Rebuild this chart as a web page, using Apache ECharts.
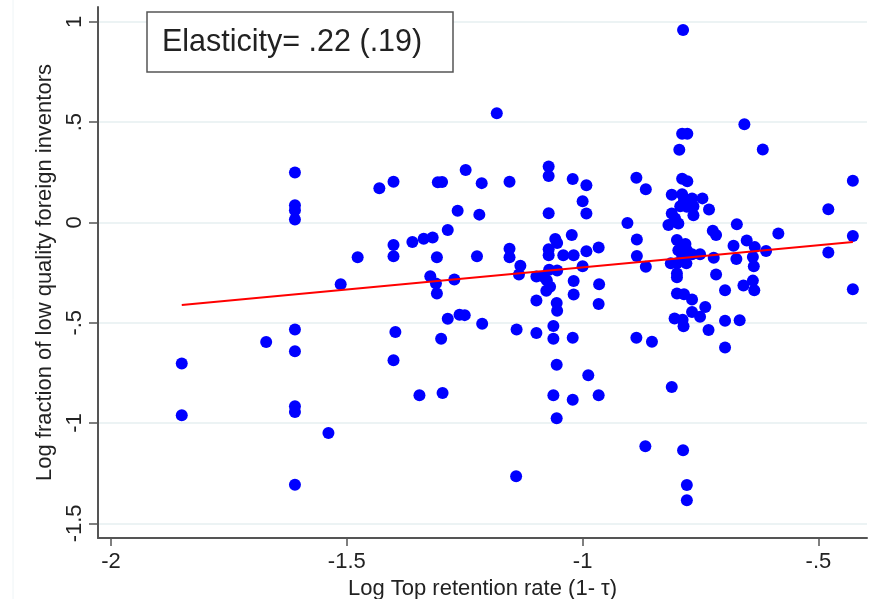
<!DOCTYPE html>
<html>
<head>
<meta charset="utf-8">
<script src="https://cdn.jsdelivr.net/npm/echarts@6/dist/echarts.min.js"></script>
<style>
  html, body { margin: 0; padding: 0; background: #fff; }
  #echart_scatter { width: 886px; height: 599px; }
</style>
</head>
<body>
<div id="echart_scatter"></div>
<script>
// log top retention rate (1 - tau)
var retention = [
  -1.850, -1.850, -1.671, -1.610, -1.610, -1.610, -1.610, -1.610, -1.610, -1.610,
  -1.610, -1.610, -1.539, -1.513, -1.477, -1.431, -1.401, -1.401, -1.401, -1.397,
  -1.401, -1.361, -1.337, -1.318, -1.346, -1.307, -1.298, -1.309, -1.323, -1.311,
  -1.309, -1.300, -1.297, -1.286, -1.265, -1.272, -1.286, -1.261, -1.250, -1.248,
  -1.214, -1.219, -1.224, -1.213, -1.182, -1.155, -1.155, -1.155, -1.132, -1.135,
  -1.140, -1.141, -1.098, -1.083, -1.098, -1.098, -1.072, -1.072, -1.072, -1.072,
  -1.072, -1.071, -1.054, -1.058, -1.054, -1.076, -1.069, -1.077, -1.055, -1.054,
  -1.062, -1.062, -1.055, -1.062, -1.055, -1.041, -1.019, -1.021, -0.992, -1.000,
  -0.992, -1.023, -1.000, -1.019, -1.019, -1.021, -1.021, -0.992, -0.966, -0.965,
  -0.966, -0.988, -0.966, -0.905, -0.886, -0.866, -0.885, -0.885, -0.866, -0.886,
  -0.853, -0.811, -0.867, -0.787, -0.789, -0.778, -0.795, -0.789, -0.778, -0.811,
  -0.789, -0.785, -0.768, -0.746, -0.793, -0.779, -0.765, -0.732, -0.811, -0.804,
  -0.765, -0.818, -0.797, -0.800, -0.782, -0.797, -0.779, -0.789, -0.768, -0.751,
  -0.813, -0.800, -0.780, -0.800, -0.800, -0.800, -0.785, -0.768, -0.740, -0.768,
  -0.751, -0.805, -0.788, -0.786, -0.733, -0.698, -0.667, -0.698, -0.787, -0.779,
  -0.779, -0.724, -0.717, -0.722, -0.717, -0.673, -0.680, -0.674, -0.698, -0.657,
  -0.618, -0.652, -0.635, -0.611, -0.639, -0.637, -0.659, -0.639, -0.636, -0.585,
  -0.479, -0.479, -0.427, -0.427, -0.427
];
// log fraction of low quality foreign inventors
var lowQuality = [
  -0.703, -0.961, -0.596, 0.249, 0.086, 0.061, 0.015, -0.534, -0.642, -0.916,
  -0.945, -1.307, -1.049, -0.308, -0.173, 0.170, 0.203, -0.113, -0.168, -0.546,
  -0.687, -0.098, -0.081, -0.075, -0.861, 0.200, 0.202, -0.173, -0.268, -0.304,
  -0.354, -0.580, -0.850, -0.038, 0.058, -0.284, -0.480, -0.460, -0.462, 0.261,
  0.196, 0.039, -0.168, -0.505, 0.544, 0.203, -0.131, -0.173, -0.216, -0.259,
  -0.534, -1.265, -0.269, -0.271, -0.389, -0.551, 0.279, 0.232, 0.046, -0.133,
  -0.163, -0.236, -0.239, -0.082, -0.103, -0.288, -0.321, -0.341, -0.401, -0.440,
  -0.516, -0.580, -0.709, -0.861, -0.976, -0.163, -0.163, 0.217, 0.185, 0.106,
  0.045, -0.063, -0.218, -0.292, -0.359, -0.575, -0.884, -0.143, -0.125, -0.308,
  -0.407, -0.762, -0.861, -0.003, 0.223, 0.165, -0.085, -0.167, -0.221, -0.575,
  -0.595, -0.820, -1.116, 0.959, 0.442, 0.442, 0.362, 0.218, 0.205, 0.138,
  0.140, 0.111, 0.120, 0.120, 0.081, 0.078, 0.081, 0.065, 0.045, 0.020,
  0.036, -0.013, -0.005, -0.088, -0.108, -0.138, -0.138, -0.163, -0.158, -0.158,
  -0.204, -0.204, -0.204, -0.254, -0.273, -0.354, -0.358, -0.384, -0.421, -0.446,
  -0.470, -0.479, -0.485, -0.518, -0.536, -0.490, -0.487, -0.623, -1.136, -1.309,
  -1.385, -0.041, -0.063, -0.176, -0.259, -0.009, -0.116, -0.182, -0.338, 0.489,
  0.364, -0.090, -0.123, -0.142, -0.172, -0.218, -0.314, -0.290, -0.338, -0.055,
  0.066, -0.150, 0.208, -0.068, -0.333
];
// fitted line endpoints
var fitX = [-1.850, -0.427];
var fitY = [-0.412, -0.097];

var xTicks = [-2, -1.5, -1, -0.5];
var xTickText = ['-2', '-1.5', '-1', '-.5'];
var yTicks = [-1.5, -1, -0.5, 0, 0.5, 1];
var yTickText = ['-1.5', '-1', '-.5', '0', '.5', '1'];

var noteText = 'Elasticity= .22 (.19)';

var points = retention.map(function (x, i) { return [x, lowQuality[i]]; });
var fitLine = fitX.map(function (x, i) { return [x, fitY[i]]; });

function tickLabel(vals, texts) {
  return function (v) {
    for (var i = 0; i < vals.length; i++) {
      if (Math.abs(vals[i] - v) < 1e-6) return texts[i];
    }
    return '';
  };
}

var font = "'Liberation Sans', Arial, sans-serif";
var myChart = echarts.init(document.getElementById('echart_scatter'), null, { renderer: 'canvas' });
var option = {
  backgroundColor: '#ffffff',
  animation: false,
  grid: {
    left: 98,
    right: 19,
    top: 7,
    bottom: 61,
    outerBoundsMode: 'none'
  },
  xAxis: {
    type: 'value',
    min: -2.0276,
    max: -0.397,
    name: 'Log Top retention rate (1- τ)',
    nameLocation: 'middle',
    nameGap: 33,
    nameTextStyle: { fontFamily: font, fontSize: 22, color: '#222' },
    axisLine: { onZero: false, lineStyle: { color: '#555', width: 2 } },
    axisTick: { show: true, length: 8, customValues: xTicks, lineStyle: { color: '#555', width: 1.5 } },
    axisLabel: {
      customValues: xTicks,
      margin: 13,
      fontFamily: font,
      fontSize: 22,
      color: '#222',
      formatter: tickLabel(xTicks, xTickText)
    },
    splitLine: { show: false }
  },
  yAxis: {
    type: 'value',
    min: -1.573,
    max: 1.074,
    name: 'Log fraction of low quality foreign inventors',
    nameLocation: 'middle',
    nameGap: 40,
    nameTextStyle: { fontFamily: font, fontSize: 22, color: '#222' },
    axisLine: { onZero: false, lineStyle: { color: '#555', width: 2 } },
    axisTick: { show: true, length: 9, customValues: yTicks, lineStyle: { color: '#555', width: 1.5 } },
    axisLabel: {
      customValues: yTicks,
      rotate: 90,
      margin: 12,
      fontFamily: font,
      fontSize: 22,
      color: '#222',
      formatter: tickLabel(yTicks, yTickText)
    },
    splitLine: { show: true, lineStyle: { color: '#e6eff1', width: 1.5 } }
  },
  graphic: [
    {
      type: 'line',
      shape: { x1: 13, y1: 0, x2: 13, y2: 599 },
      style: { stroke: '#eef4f6', lineWidth: 1 },
      z: 0
    },
    {
      type: 'rect',
      shape: { x: 147, y: 12, width: 306, height: 60 },
      style: { fill: '#fff', stroke: '#555', lineWidth: 1.5 },
      z: 10
    },
    {
      type: 'text',
      x: 162,
      y: 43,
      style: {
        text: noteText,
        font: '30.5px ' + font,
        fill: '#222',
        textAlign: 'left',
        textVerticalAlign: 'middle'
      },
      z: 11
    }
  ],
  series: [
    {
      type: 'scatter',
      data: points,
      symbol: 'circle',
      symbolSize: 12,
      itemStyle: { color: '#0000ff', opacity: 1 }
    },
    {
      type: 'line',
      data: fitLine,
      symbol: 'none',
      lineStyle: { color: '#ff0000', width: 2 },
      z: 3
    }
  ]
};
myChart.setOption(option);
</script>
</body>
</html>
